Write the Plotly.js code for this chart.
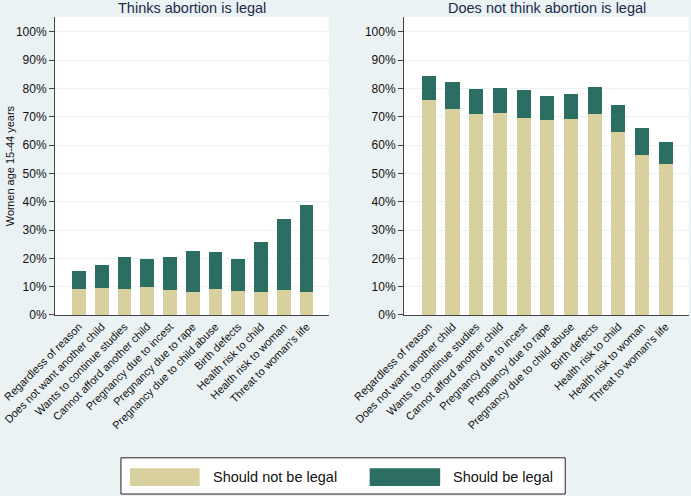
<!DOCTYPE html>
<html>
<head>
<meta charset="utf-8">
<script src="https://cdn.plot.ly/plotly-3.0.1.min.js"></script>
<style>
  body { margin: 0; background: #EAF2F3; }
  #chart { width: 691px; height: 496px; }
</style>
</head>
<body>
<div id="chart"></div>
<script>
var reasons = ['Regardless of reason', 'Does not want another child', 'Wants to continue studies',
    'Cannot afford another child', 'Pregnancy due to incest', 'Pregnancy due to rape',
    'Pregnancy due to child abuse', 'Birth defects', 'Health risk to child',
    'Health risk to woman', "Threat to woman's life"];

// thinks abortion is legal
var legalNot = [9.2, 9.5, 9.3, 9.8, 8.8, 8.1, 9.3, 8.5, 8.2, 8.7, 8.2];
var legalYes = [6.3, 8.3, 11.1, 10.1, 11.8, 14.6, 12.9, 11.3, 17.7, 25.2, 30.7];

// does not think abortion is legal
var notlegalNot = [75.9, 72.9, 71.1, 71.2, 69.7, 68.7, 69.1, 71.0, 64.7, 56.5, 53.2];
var notlegalYes = [8.6, 9.4, 8.7, 9.1, 9.7, 8.7, 8.8, 9.4, 9.4, 9.7, 7.9];

var yTicks = [0, 10, 20, 30, 40, 50, 60, 70, 80, 90, 100];
var yTickText = ['0%', '10%', '20%', '30%', '40%', '50%', '60%', '70%', '80%', '90%', '100%'];

var tan = '#D8D19F';
var green = '#2D6E63';
var bg = '#EAF2F3';

var data = [
    {x: reasons, y: legalNot, type: 'bar', name: 'Should not be legal', width: 0.6,
     marker: {color: tan}, xaxis: 'x', yaxis: 'y'},
    {x: reasons, y: legalYes, type: 'bar', name: 'Should be legal', width: 0.6,
     marker: {color: green}, xaxis: 'x', yaxis: 'y'},
    {x: reasons, y: notlegalNot, type: 'bar', name: 'Should not be legal', width: 0.6,
     marker: {color: tan}, xaxis: 'x2', yaxis: 'y2'},
    {x: reasons, y: notlegalYes, type: 'bar', name: 'Should be legal', width: 0.6,
     marker: {color: green}, xaxis: 'x2', yaxis: 'y2'}
];

var xFont = {family: 'Liberation Sans, Arial, sans-serif', size: 11, color: '#111'};
var yFont = {family: 'Liberation Sans, Arial, sans-serif', size: 12, color: '#111'};

function xax(domain) {
    return {
        domain: domain, range: [-1.05, 10.98], tickangle: -45, tickfont: xFont,
        showline: true, linecolor: '#444', linewidth: 1, ticks: '', showgrid: false
    };
}

function yax(anchor) {
    return {
        domain: [0.365, 0.966], range: [0, 105.3], anchor: anchor,
        tickmode: 'array', tickvals: yTicks, ticktext: yTickText,
        tickfont: yFont, ticks: 'outside', ticklen: 5, tickcolor: '#444',
        showline: true, linecolor: '#444', linewidth: 1,
        gridcolor: bg, gridwidth: 1, zeroline: false
    };
}

var titleFont = {family: 'Liberation Sans, Arial, sans-serif', size: 14.5, color: '#1C2B4A'};
var legFont = {family: 'Liberation Sans, Arial, sans-serif', size: 14.5, color: '#111'};

var layout = {
    width: 691, height: 496,
    margin: {l: 0, r: 0, t: 0, b: 0},
    paper_bgcolor: bg,
    plot_bgcolor: '#FFFFFF',
    barmode: 'stack',
    showlegend: false,
    xaxis: xax([0.0796, 0.476]),
    yaxis: yax('x'),
    xaxis2: xax([0.5847, 0.997]),
    yaxis2: yax('x2'),
    annotations: [
        {text: 'Thinks abortion is legal', xref: 'paper', yref: 'paper', x: 0.278, y: 1.005,
         xanchor: 'center', yanchor: 'top', showarrow: false, font: titleFont},
        {text: 'Does not think abortion is legal', xref: 'paper', yref: 'paper', x: 0.791, y: 1.005,
         xanchor: 'center', yanchor: 'top', showarrow: false, font: titleFont},
        {text: 'Women age 15-44 years', xref: 'paper', yref: 'paper', x: 0.0145, y: 0.665,
         xanchor: 'center', yanchor: 'middle', textangle: -90, showarrow: false, font: xFont},
        {text: 'Should not be legal', xref: 'paper', yref: 'paper', x: 0.305, y: 0.038,
         xanchor: 'left', yanchor: 'middle', showarrow: false, font: legFont},
        {text: 'Should be legal', xref: 'paper', yref: 'paper', x: 0.652, y: 0.038,
         xanchor: 'left', yanchor: 'middle', showarrow: false, font: legFont}
    ],
    shapes: [
        {type: 'rect', xref: 'paper', yref: 'paper', x0: 0.175, x1: 0.818, y0: 0.004, y1: 0.077,
         line: {color: '#222', width: 1}, fillcolor: '#FFFFFF'},
        {type: 'rect', xref: 'paper', yref: 'paper', x0: 0.188, x1: 0.289, y0: 0.020, y1: 0.056,
         line: {width: 0}, fillcolor: tan},
        {type: 'rect', xref: 'paper', yref: 'paper', x0: 0.535, x1: 0.637, y0: 0.020, y1: 0.056,
         line: {width: 0}, fillcolor: green}
    ]
};

Plotly.newPlot('chart', data, layout, {displayModeBar: false, staticPlot: true});
</script>
</body>
</html>
